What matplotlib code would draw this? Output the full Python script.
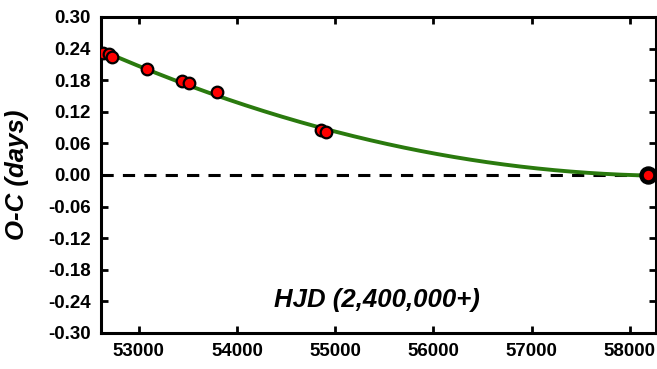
import numpy as np
import matplotlib
matplotlib.use("Agg")
import matplotlib.pyplot as plt

plt.rcParams['font.family'] = ['Liberation Sans', 'DejaVu Sans']

# O-C data
hjd = [52637, 52698, 52728, 53084, 53441, 53512, 53797, 54856, 54907, 58185]
oc = [0.232, 0.230, 0.224, 0.201, 0.178, 0.175, 0.158, 0.085, 0.082, 0.000]
hjd_ref = [58185]
oc_ref = [0.0]

xticks = [53000, 54000, 55000, 56000, 57000, 58000]
yticks = [-0.30, -0.24, -0.18, -0.12, -0.06, 0.00, 0.06, 0.12, 0.18, 0.24, 0.30]

# quadratic fit
coef = np.polyfit(hjd, oc, 2)
xf = np.linspace(52613, 58265, 400)
yf = np.polyval(coef, xf)

fig = plt.figure(figsize=(6.57, 3.69), dpi=100)
ax = fig.add_axes([0.1533, 0.0976, 0.845, 0.8564])

ax.axhline(0, color='black', lw=2.2, ls=(0, (4, 3)), zorder=1)
ax.plot(xf, yf, color='#2a7a0e', lw=2.8, zorder=2)
ax.scatter(hjd_ref, oc_ref, s=150, color='black', zorder=3)
ax.scatter(hjd, oc, s=70, color='red', edgecolor='black', linewidth=1.6, zorder=4)

ax.set_xlim(52613, 58265)
ax.set_ylim(-0.30, 0.30)
ax.set_xticks(xticks)
ax.set_yticks(yticks)
ax.set_yticklabels([f"{v:.2f}" for v in yticks])
ax.tick_params(direction='in', width=2, length=5, labelsize=13.5, top=True, right=True, pad=7)
for lab in ax.get_xticklabels() + ax.get_yticklabels():
    lab.set_fontweight('bold')
for sp in ax.spines.values():
    sp.set_linewidth(2.2)

ax.set_ylabel("O-C (days)", fontsize=18.5, fontweight='bold', style='italic', labelpad=14)
ax.text(0.497, 0.104, "HJD (2,400,000+)", transform=ax.transAxes, ha='center', va='center',
        fontsize=18.5, fontweight='bold', style='italic')

plt.savefig('out.png', dpi=100)
